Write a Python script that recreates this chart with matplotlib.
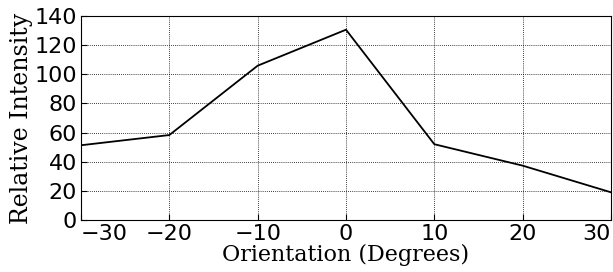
import matplotlib
matplotlib.use("Agg")
import matplotlib.pyplot as plt

orientation = [-30, -20, -10, 0, 10, 20, 30]
intensity = [51.3, 58.3, 105.9, 130.6, 52.0, 37.3, 19.0]
xticks = [-30, -20, -10, 0, 10, 20, 30]
yticks = [0, 20, 40, 60, 80, 100, 120, 140]

fig = plt.figure(figsize=(6.13, 2.72), dpi=100)
ax = fig.add_axes([81/613, 52/272, 530/613, 204/272])
ax.plot(orientation, intensity, color="black", lw=1.3)
ax.set_xlim(-30, 30)
ax.set_ylim(0, 140)
ax.set_xticks(xticks)
ax.set_yticks(yticks)
ax.grid(True, color="black", linestyle=(0, (1, 1.5)), linewidth=0.6)
ax.tick_params(direction="in", labelsize=16, length=4, pad=3)
labels = ax.get_xticklabels()
labels[0].set_horizontalalignment("left")
labels[-1].set_horizontalalignment("right")
ax.set_xlabel("Orientation (Degrees)", family="DejaVu Serif", fontsize=16, labelpad=0)
ax.set_ylabel("Relative Intensity", family="DejaVu Serif", fontsize=17, labelpad=1)
fig.savefig("out.png", dpi=100)
